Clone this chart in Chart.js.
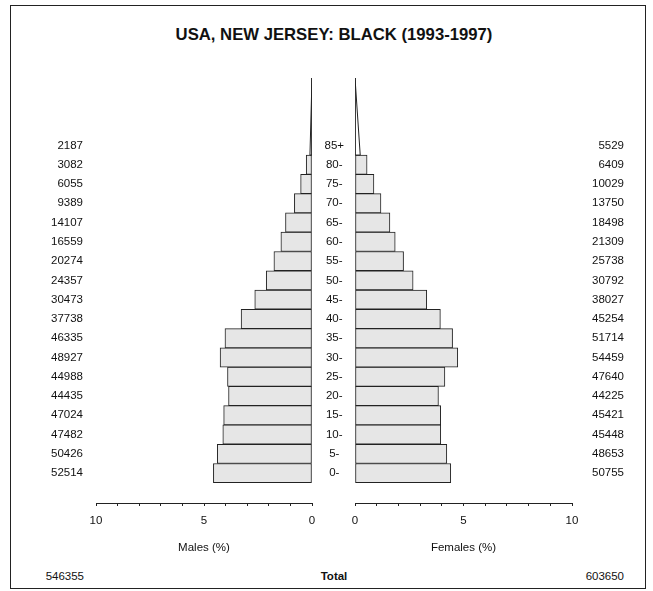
<!DOCTYPE html>
<html>
<head>
<meta charset="utf-8">
<script src="https://cdn.jsdelivr.net/npm/chart.js@4.4.1/dist/chart.umd.min.js"></script>
<style>
  html, body { margin: 0; padding: 0; background: #fff; }
  body { width: 653px; height: 591px; position: relative; overflow: hidden;
         font-family: "Liberation Sans", Arial, sans-serif; color: #111; }
  #frame { position: absolute; left: 10px; top: 5px; width: 636px; height: 584px;
           border: 1.5px solid #222; box-sizing: border-box; }
  #title { position: absolute; left: 12px; width: 644px; top: 25px; line-height: 20px;
           text-align: center; font-weight: bold; font-size: 16.7px; }
  canvas { position: absolute; }
  #maleChart { left: 10px; top: 60px; }
  #femaleChart { left: 312px; top: 60px; }
  .tot { position: absolute; top: 569px; line-height: 14px; font-size: 11.5px; }
  #totM { left: 0; width: 84px; text-align: right; }
  #totLbl { left: 284px; width: 100px; text-align: center; font-weight: bold; }
  #totF { left: 524px; width: 100px; text-align: right; }
</style>
</head>
<body>
<div id="frame"></div>
<div id="title">USA, NEW JERSEY: BLACK (1993-1997)</div>
<canvas id="maleChart" width="308" height="505"></canvas>
<canvas id="femaleChart" width="334" height="505"></canvas>
<div class="tot" id="totM"></div>
<div class="tot" id="totLbl">Total</div>
<div class="tot" id="totF"></div>

<script>
// age groups, bottom to top
const ages = ["0-", "5-", "10-", "15-", "20-", "25-", "30-", "35-", "40-",
              "45-", "50-", "55-", "60-", "65-", "70-", "75-", "80-", "85+"];

const maleCounts = [52514, 50426, 47482, 47024, 44435, 44988, 48927, 46335, 37738,
                    30473, 24357, 20274, 16559, 14107, 9389, 6055, 3082, 2187];
const femaleCounts = [50755, 48653, 45448, 45421, 44225, 47640, 54459, 51714, 45254,
                      38027, 30792, 25738, 21309, 18498, 13750, 10029, 6409, 5529];

// share of the whole population (%)
const malePct = [4.566, 4.385, 4.129, 4.089, 3.864, 3.912, 4.255, 4.029, 3.282,
                 2.650, 2.118, 1.763, 1.440, 1.227, 0.816, 0.527, 0.268, 0.190];
const femalePct = [4.413, 4.231, 3.952, 3.950, 3.846, 4.143, 4.736, 4.497, 3.935,
                   3.307, 2.678, 2.238, 1.853, 1.609, 1.196, 0.872, 0.557, 0.481];

const maleTotal = 546355;
const femaleTotal = 603650;

const xTicks = [0, 5, 10];

const FONT = "'Liberation Sans', Arial, sans-serif";
const INK = "#111";
const LINE = "#222";
const FILL = "#e6e6e6";

document.getElementById("totM").textContent = maleTotal;
document.getElementById("totF").textContent = femaleTotal;

const last = ages.length - 1;   // open-ended 85+ group

function barData(pct) {
  return pct.slice(0, last).map((v, i) => ({ x: v, y: i }));
}

// 85+ drawn as a triangle over 4 bands with the same area as one bar
function topShape(pct) {
  const b = pct[last] / 2;
  return [
    { x: 0, y: last - 0.5 },
    { x: b, y: last - 0.5 },
    { x: 0, y: last + 3.5 },
    { x: 0, y: last - 0.5 }
  ];
}

function setAgeTicks(s) {
  s.ticks = ages.map((a, i) => ({ value: i }));
}

// let the layout padding alone decide where the plot sits
function noLabelPad(s) {
  s.paddingLeft = 0;
  s.paddingRight = 0;
  s.paddingTop = 0;
  s.paddingBottom = 0;
}

function datasets(pct) {
  return [
    {
      type: "bar",
      data: barData(pct),
      backgroundColor: FILL,
      borderColor: LINE,
      borderWidth: 1,
      borderSkipped: false,
      barPercentage: 1,
      categoryPercentage: 1,
      order: 2
    },
    {
      type: "line",
      indexAxis: "y",
      data: topShape(pct),
      borderColor: LINE,
      borderWidth: 1,
      backgroundColor: FILL,
      fill: "origin",
      pointRadius: 0,
      tension: 0,
      order: 1
    }
  ];
}

function xAxis(reverse, title) {
  return {
    type: "linear",
    min: 0,
    max: 10,
    reverse: reverse,
    border: { display: true, color: LINE, width: 1 },
    grid: { display: true, drawOnChartArea: false, drawTicks: true, tickLength: 3, color: LINE, lineWidth: 1 },
    ticks: {
      stepSize: 1,
      autoSkip: false,
      maxRotation: 0,
      padding: 8,
      color: INK,
      font: { family: FONT, size: 11.5 },
      callback: v => xTicks.includes(v) ? String(v) : ""
    },
    title: {
      display: true,
      text: title,
      color: INK,
      font: { family: FONT, size: 11.5 },
      padding: { top: 4, bottom: 10 }
    },
    afterFit: s => { s.height = 62; noLabelPad(s); }
  };
}

function yAxis(position, width, ticks) {
  return {
    type: "linear",
    min: -1.55,
    max: 20.5,
    offset: false,
    position: position,
    grid: { display: false, drawTicks: false, offset: false },
    border: { display: false },
    afterBuildTicks: setAgeTicks,
    afterFit: s => { s.width = width; noLabelPad(s); },
    ticks: Object.assign({ color: INK, font: { family: FONT, size: 11.5 } }, ticks)
  };
}

const common = {
  indexAxis: "y",
  responsive: false,
  animation: false,
  devicePixelRatio: 1,
  plugins: { legend: { display: false }, tooltip: { enabled: false } }
};

// males
new Chart(document.getElementById("maleChart"), {
  type: "bar",
  data: { datasets: datasets(malePct) },
  options: {
    ...common,
    layout: { padding: { top: 18, right: 6, left: 0, bottom: 0 } },
    scales: {
      x: xAxis(true, "Males (%)"),
      y: yAxis("left", 86, { padding: 13, callback: v => maleCounts[v] })
    }
  }
});

// females
new Chart(document.getElementById("femaleChart"), {
  type: "bar",
  data: { datasets: datasets(femalePct) },
  options: {
    ...common,
    layout: { padding: { top: 18, right: 22, left: 0, bottom: 0 } },
    scales: {
      x: xAxis(false, "Females (%)"),
      y: yAxis("left", 43, { padding: 11, crossAlign: "center", callback: v => ages[v] }),
      yR: yAxis("right", 52, { crossAlign: "far", callback: v => femaleCounts[v] })
    }
  }
});
</script>
</body>
</html>
